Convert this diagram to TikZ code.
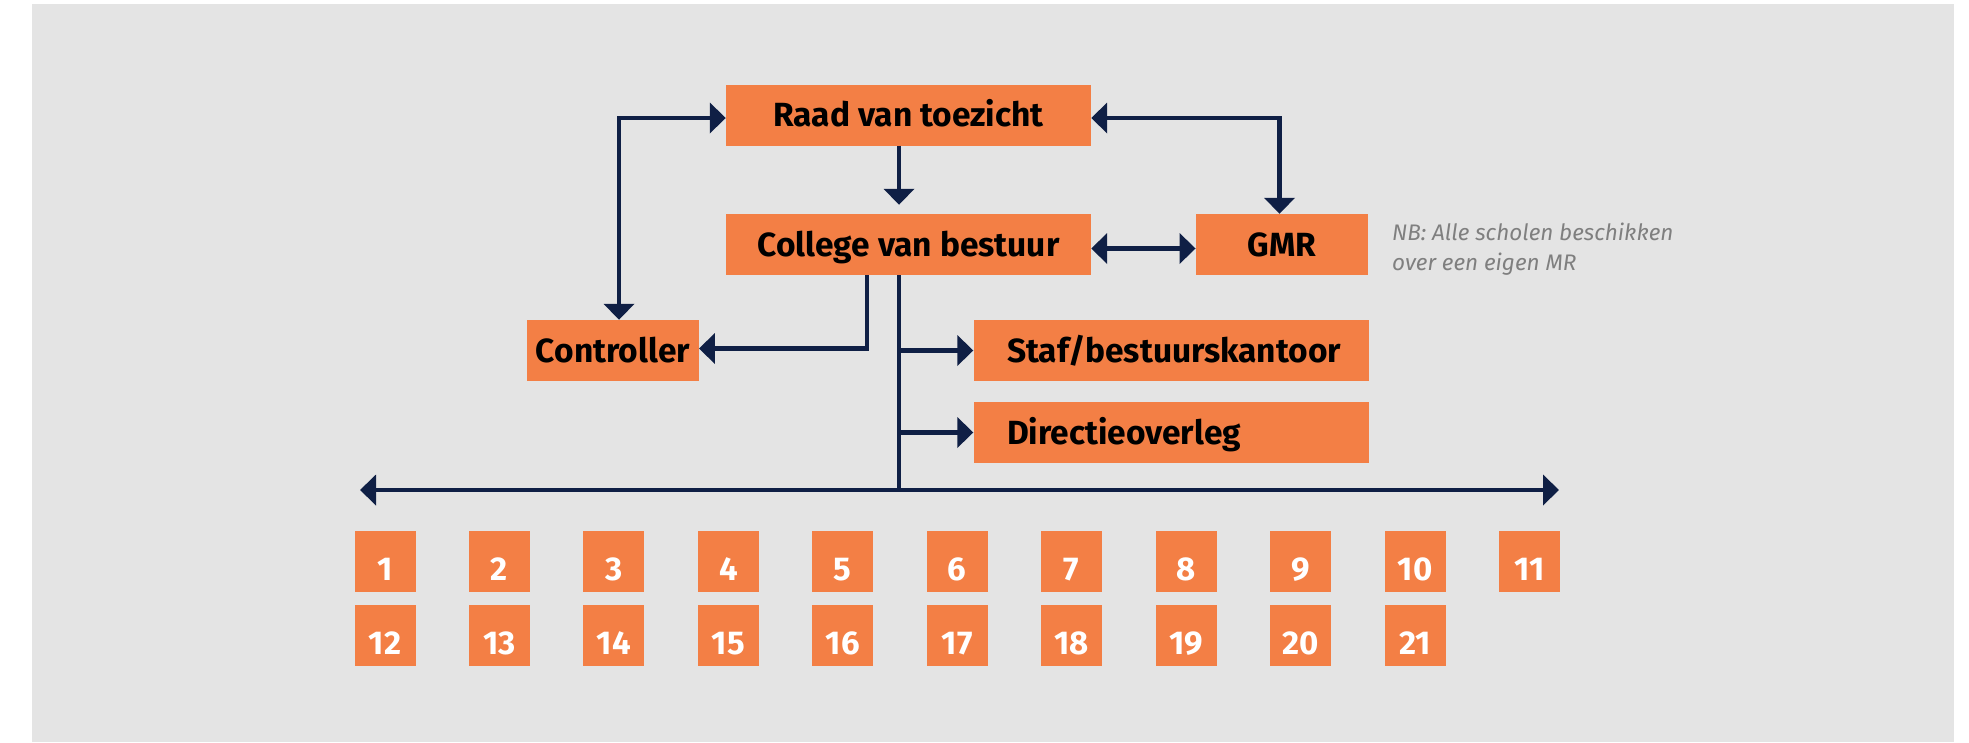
\documentclass[tikz,border=0pt]{standalone}
\usepackage{fontspec}
\setmainfont{Fira Sans}
\usetikzlibrary{arrows.meta}
\definecolor{oranje}{HTML}{F37F45}
\definecolor{navy}{HTML}{0F1F45}
\definecolor{achtergrond}{HTML}{E4E4E4}
\definecolor{notegrijs}{HTML}{7F7F7F}

\begin{document}
\begin{tikzpicture}[x=1pt, y=-1pt, >={Triangle[length=16pt,width=30pt]},
    box/.style={fill=oranje, inner sep=0pt, minimum height=61pt, text height=23pt, text depth=0pt,
      font=\fontsize{33.5}{33.5}\selectfont\bfseries},
    leftbox/.style={box, text width=328pt, inner xsep=33.5pt, align=left},
    school/.style={fill=oranje, inner sep=0pt, minimum width=61pt, minimum height=61pt, text=white,
      text height=37pt, text depth=0pt, font=\fontsize{33}{33}\selectfont\bfseries},
    link/.style={draw=navy, line width=4.5pt}]
    \useasboundingbox (0,0) rectangle (1969,742);
    \fill[achtergrond] (32,4) rectangle (1954,742);

    % organen
    \node[box, minimum width=365pt] (raad) at (908.5,115) {Raad van toezicht};
    \node[box, minimum width=365pt] (college) at (908.5,244.5) {College van bestuur};
    \node[box, minimum width=172.5pt] (gmr) at (1282,244.5) {GMR};
    \node[box, minimum width=171.5pt] (controller) at (613,350.5) {Controller};
    \node[leftbox] (staf) at (1171,350.5) {Staf/bestuurskantoor};
    \node[leftbox] (directie) at (1171,432.5) {Directieoverleg};
    \node[anchor=base west, align=left, inner sep=0pt, text=notegrijs,
      font=\fontsize{22.5}{30}\selectfont\itshape] (nb) at (1392,270.7)
      {NB: Alle scholen beschikken\\over een eigen MR};

    % scholen
    \foreach \i in {1,...,11}
        \node[school] (s\i) at ({385+114.45*(\i-1)},561.5) {\i};
    \foreach \i in {12,...,21}
        \node[school] (s\i) at ({385+114.45*(\i-12)},635.5) {\i};

    % lijnen
    \coordinate (trunk) at (899,490);
    \coordinate (busL) at (360,490);
    \coordinate (busR) at (1559,490);
    \draw[link, <->] ([xshift=6pt]controller.north) |- ([yshift=-3pt]raad.west);
    \draw[link, <->] ([yshift=-3pt]raad.east) -| ([xshift=-2.5pt]gmr.north);
    \draw[link, ->, shorten >=9pt] (raad.south -| trunk) -- (college.north -| trunk);
    \draw[link, <->] ([yshift=-4pt]college.east) -- ([yshift=-4pt]gmr.west);
    \draw[link, ->] ([xshift=-41.5pt]college.south) |- ([yshift=2pt]controller.east);
    \draw[link] (college.south -| trunk) -- (trunk);
    \draw[link, ->] (staf.west -| trunk) -- (staf.west);
    \draw[link, ->] (directie.west -| trunk) -- (directie.west);
    \draw[link, <->] (busL) -- (busR);
\end{tikzpicture}
\end{document}
